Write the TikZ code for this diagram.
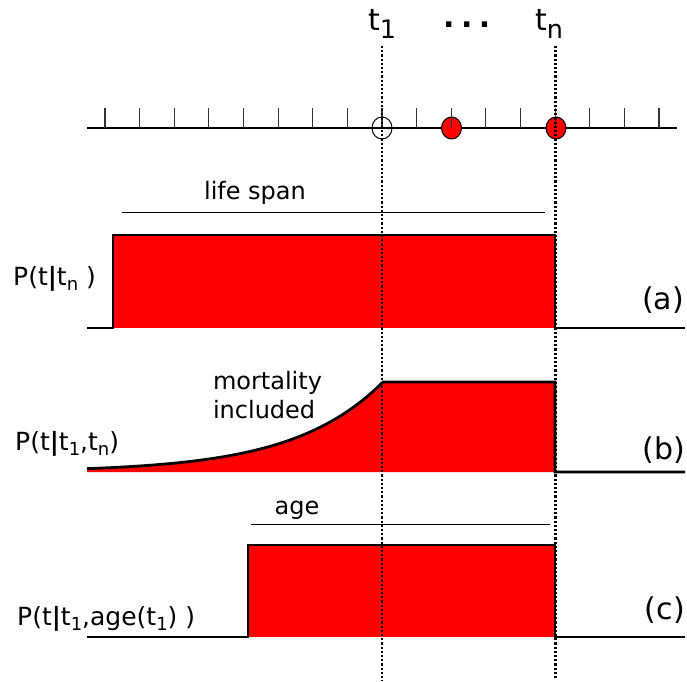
\documentclass[tikz,border=0pt]{standalone}
\usepackage{fontspec}
\setmainfont{DejaVu Sans}
\usetikzlibrary{shapes.geometric}
\definecolor{fillred}{HTML}{FF0000}
\newcommand{\lowsub}[1]{\raisebox{-0.2em}{\scalebox{0.72}{#1}}}
\newcommand{\timesub}[1]{\raisebox{-0.27em}{\scalebox{0.85}{#1}}}
\newcommand{\vbar}{\textbf{|}}
\tikzset{
  lbl/.style={inner sep=0pt, font=\fontsize{24}{29}\selectfont, align=left},
  plbl/.style={inner sep=0pt, font=\fontsize{25}{30}\selectfont},
  tagl/.style={inner sep=0pt, font=\fontsize{30}{34}\selectfont},
  timelbl/.style={inner sep=0pt, font=\fontsize{30}{34}\selectfont},
  baseaxis/.style={draw=black, line width=2.7pt},
  tickmark/.style={draw=black!80, line width=1.1pt},
  profile/.style={draw=black, line width=2.8pt, line join=miter},
  redarea/.style={fill=fillred},
  spanline/.style={draw=black, line width=1pt},
  guideline/.style={draw=black, line width=2.3pt, dash pattern=on 2.2pt off 2pt},
  event/.style={ellipse, draw=black, line width=1pt, minimum width=20pt, minimum height=22pt, inner sep=0pt}
}

\begin{document}
\begin{tikzpicture}[x=1pt, y=-1pt]
  \useasboundingbox (0,0) rectangle (687,681);

  % time axis with events
  \draw[baseaxis] (87,128) -- (677,128);
  \node[event] (ev1) at (382,128) {};
  \node[event, fill=fillred] (ev2) at (451.5,128) {};
  \node[event, fill=fillred] (ev3) at (556,128) {};
  \foreach \i in {0,...,16}
    \draw[tickmark] ({105+34.625*\i},108) -- ++(0,20);

  \node[timelbl, anchor=base west] (tone) at (368,30) {t\timesub{1}};
  \node[timelbl, anchor=base west] (tlast) at (535,30) {t\timesub{n}};
  \node[timelbl, anchor=base west, font=\fontsize{30}{34}\selectfont\bfseries] (dots) at (443,27) {.\hspace{6.5pt}.\hspace{6.5pt}.};

  % (a)
  \node[lbl, anchor=base] (lifespan) at (255,199) {life span};
  \draw[spanline] (122,212) -- (545,212);
  \fill[redarea] (113,235) rectangle (555,328);
  \draw[profile] (87,328) -- (113,328) -- (113,235) -- (555,235) -- (555,328) -- (685,328);
  \node[plbl, anchor=base west] (pa) at (13,285) {P(t\vbar t\lowsub{n} )};
  \node[tagl, anchor=base east] (taga) at (684,309) {(a)};

  % (b)
  \fill[redarea] (87,472) -- plot[domain=87:383, samples=80] (\x,{472-90*exp((\x-383)/90)}) -- (555,382) -- (555,472) -- cycle;
  \draw[profile] plot[domain=87:383, samples=80] (\x,{472-90*exp((\x-383)/90)}) -- (555,382) -- (555,472) -- (685,472);
  \node[lbl, anchor=center] (mort) at (267.5,395.5) {mortality\\included};
  \node[plbl, anchor=base west] (pb) at (15,450) {P(t\vbar t\lowsub{1},t\lowsub{n})};
  \node[tagl, anchor=base east] (tagb) at (685,459) {(b)};

  % (c)
  \node[lbl, anchor=base] (agelbl) at (297,514) {age};
  \draw[spanline] (251,524) -- (550,524);
  \fill[redarea] (248,545) rectangle (555,637);
  \draw[profile] (87,637) -- (248,637) -- (248,545) -- (555,545) -- (555,637) -- (685,637);
  \node[plbl, anchor=base west] (pc) at (17,625) {P(t\vbar t\lowsub{1},age(t\lowsub{1}) )};
  \node[tagl, anchor=base east] (tagc) at (685,619) {(c)};

  % guides at t1 and tn
  \coordinate (g1top) at (382,46);
  \coordinate (g1bot) at (382,681);
  \coordinate (gntop) at (555.5,46);
  \coordinate (gnbot) at (555.5,678);
  \draw[guideline] (g1top) -- (g1bot);
  \draw[guideline] (gntop) -- (gnbot);
\end{tikzpicture}
\end{document}
